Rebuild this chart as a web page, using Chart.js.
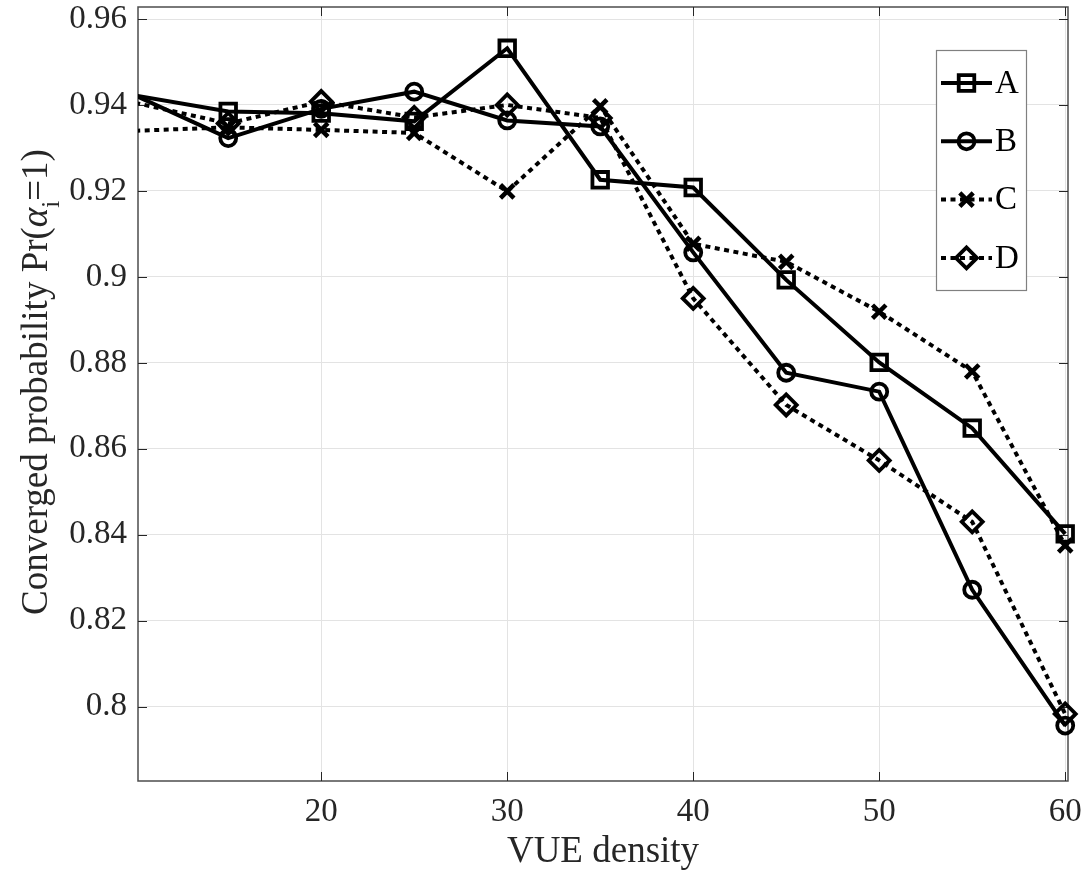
<!DOCTYPE html>
<html lang="en">
<head>
<meta charset="UTF-8">
<title>Converged probability vs VUE density</title>
<script src="https://cdn.jsdelivr.net/npm/chart.js"></script>
<style>
  html, body { margin: 0; padding: 0; background: #fff; }
  #wrap { width: 1086px; height: 879px; }
</style>
</head>
<body>
<div id="wrap"><canvas id="chart"></canvas></div>
<script>
// data
const density = [10, 15, 20, 25, 30, 35, 40, 45, 50, 55, 60];
const seriesA = [0.9422, 0.9385, 0.9381, 0.9362, 0.9532, 0.9226, 0.9208, 0.8993, 0.8801, 0.8648, 0.8402];
const seriesB = [0.9422, 0.9323, 0.9391, 0.9431, 0.9364, 0.9350, 0.9057, 0.8777, 0.8733, 0.8272, 0.7956];
const seriesC = [0.9340, 0.9348, 0.9342, 0.9335, 0.9199, 0.9397, 0.9077, 0.9035, 0.8919, 0.8780, 0.8375];
const seriesD = [0.9405, 0.9357, 0.9408, 0.9371, 0.9400, 0.9370, 0.8950, 0.8702, 0.8573, 0.8430, 0.7983];
const seriesNames = ['A', 'B', 'C', 'D'];
const xTicks = [20, 30, 40, 50, 60];
const yTicks = [0.8, 0.82, 0.84, 0.86, 0.88, 0.9, 0.92, 0.94, 0.96];

const X_MIN = 10.15, X_MAX = 60.15;
const Y_MIN = 0.7827, Y_MAX = 0.9628;
const SERIF = '"Liberation Serif", "Times New Roman", Times, serif';
const TEXT = '#262626';

function toPoints(ys) {
  return density.map((x, i) => ({ x: x, y: ys[i] }));
}

// hide markers whose centre falls outside the axes (MATLAB clips them)
function markerRadius(r) {
  return ctx => (ctx.parsed && ctx.parsed.x < X_MIN) ? 0 : r;
}

function makeSet(label, ys, style, radius, dashed) {
  return {
    label: label,
    data: toPoints(ys),
    borderColor: '#000',
    backgroundColor: 'rgba(0,0,0,0)',
    borderWidth: 4,
    borderDash: dashed ? [5, 4.5] : [],
    pointStyle: style,
    markerSize: radius,
    pointRadius: markerRadius(radius),
    pointHoverRadius: markerRadius(radius),
    pointBorderWidth: style === 'crossRot' ? 4.5 : 3.8,
    pointBorderColor: '#000',
    pointBackgroundColor: 'rgba(0,0,0,0)',
    tension: 0,
    fill: false,
    clip: { left: 0, top: 0, right: 14, bottom: 0 }
  };
}

// the axes box must sit exactly where the figure has it
function noScalePadding(s) {
  s.paddingTop = 0; s.paddingBottom = 0; s.paddingLeft = 0; s.paddingRight = 0;
}

// box, inward ticks, legend and y label drawn like the MATLAB figure
const figurePlugin = {
  id: 'figureDecor',
  beforeDatasetsDraw(chart) {
    const { ctx, chartArea: a, scales } = chart;
    ctx.save();
    ctx.strokeStyle = '#4d4d4d';
    ctx.lineWidth = 1.5;
    ctx.strokeRect(a.left, a.top, a.right - a.left, a.bottom - a.top);
    ctx.strokeStyle = TEXT;
    ctx.lineWidth = 1;
    const tl = 9;
    ctx.beginPath();
    xTicks.forEach(v => {
      const px = Math.round(scales.x.getPixelForValue(v)) + 0.5;
      ctx.moveTo(px, a.bottom); ctx.lineTo(px, a.bottom - tl);
      ctx.moveTo(px, a.top); ctx.lineTo(px, a.top + tl);
    });
    yTicks.forEach(v => {
      const py = Math.round(scales.y.getPixelForValue(v)) + 0.5;
      ctx.moveTo(a.left, py); ctx.lineTo(a.left + tl, py);
      ctx.moveTo(a.right, py); ctx.lineTo(a.right - tl, py);
    });
    ctx.stroke();
    ctx.restore();
  },
  afterDraw(chart) {
    const { ctx } = chart;
    ctx.save();

    // legend
    const box = { x: 936, y: 50, w: 90, h: 240 };
    ctx.fillStyle = '#fff';
    ctx.fillRect(box.x, box.y, box.w, box.h);
    ctx.strokeStyle = '#808080';
    ctx.lineWidth = 1.2;
    ctx.strokeRect(box.x + 0.5, box.y + 0.5, box.w, box.h);
    chart.data.datasets.forEach((ds, i) => {
      const y = 83 + i * 58.3;
      ctx.strokeStyle = '#000';
      ctx.lineWidth = ds.borderWidth;
      ctx.setLineDash(ds.borderDash);
      ctx.beginPath();
      ctx.moveTo(941, y); ctx.lineTo(992, y);
      ctx.stroke();
      ctx.setLineDash([]);
      ctx.lineWidth = ds.pointBorderWidth;
      ctx.fillStyle = 'rgba(0,0,0,0)';
      Chart.helpers.drawPoint(ctx, { pointStyle: ds.pointStyle, radius: ds.markerSize, borderWidth: ds.pointBorderWidth, rotation: 0 }, 966.5, y);
      ctx.fillStyle = '#000';
      ctx.font = `33px ${SERIF}`;
      ctx.textBaseline = 'middle';
      ctx.textAlign = 'left';
      ctx.fillText(ds.label, 995, y + 1);
    });

    // y axis label with subscript
    const parts = [
      { t: 'Converged probability Pr(', f: `37px ${SERIF}`, dy: 0 },
      { t: 'α', f: `italic 37px ${SERIF}`, dy: 0 },
      { t: 'i', f: `25px ${SERIF}`, dy: 12 },
      { t: '=1)', f: `37px ${SERIF}`, dy: 0 }
    ];
    let total = 0;
    parts.forEach(p => { ctx.font = p.f; p.w = ctx.measureText(p.t).width; total += p.w; });
    ctx.translate(47, 382);
    ctx.rotate(-Math.PI / 2);
    ctx.fillStyle = TEXT;
    ctx.textBaseline = 'alphabetic';
    let x = -total / 2;
    parts.forEach(p => { ctx.font = p.f; ctx.fillText(p.t, x, p.dy); x += p.w; });
    ctx.restore();
  }
};

const ctx = document.getElementById('chart').getContext('2d');
const chart = new Chart(ctx, {
  type: 'line',
  data: {
    datasets: [
      makeSet(seriesNames[0], seriesA, 'rect', 11, false),
      makeSet(seriesNames[1], seriesB, 'circle', 8, false),
      makeSet(seriesNames[2], seriesC, 'crossRot', 9.5, true),
      makeSet(seriesNames[3], seriesD, 'rectRot', 10.5, true)
    ]
  },
  options: {
    responsive: true,
    maintainAspectRatio: false,
    animation: false,
    layout: { autoPadding: false, padding: { top: 7, right: 18, left: 0, bottom: 0 } },
    plugins: {
      legend: { display: false },
      tooltip: { enabled: false }
    },
    scales: {
      x: {
        type: 'linear',
        min: X_MIN,
        max: X_MAX,
        afterBuildTicks: s => { s.ticks = xTicks.map(v => ({ value: v })); },
        afterFit: s => { s.height = 98; noScalePadding(s); },
        border: { display: false },
        grid: { color: '#e3e3e3', lineWidth: 1, drawTicks: false },
        ticks: {
          color: TEXT,
          font: { family: SERIF, size: 33 },
          padding: 12,
          maxRotation: 0,
          autoSkip: false,
          callback: v => String(v)
        },
        title: {
          display: true,
          text: 'VUE density',
          color: TEXT,
          font: { family: SERIF, size: 37 },
          padding: { top: 0, bottom: 5 }
        }
      },
      y: {
        min: Y_MIN,
        max: Y_MAX,
        afterBuildTicks: s => { s.ticks = yTicks.map(v => ({ value: v })); },
        afterFit: s => { s.width = 138; noScalePadding(s); },
        border: { display: false },
        grid: { color: '#e3e3e3', lineWidth: 1, drawTicks: false },
        ticks: {
          color: TEXT,
          font: { family: SERIF, size: 33 },
          padding: 11,
          autoSkip: false,
          callback: v => String(+v.toFixed(2))
        }
      }
    }
  },
  plugins: [figurePlugin]
});
</script>
</body>
</html>
